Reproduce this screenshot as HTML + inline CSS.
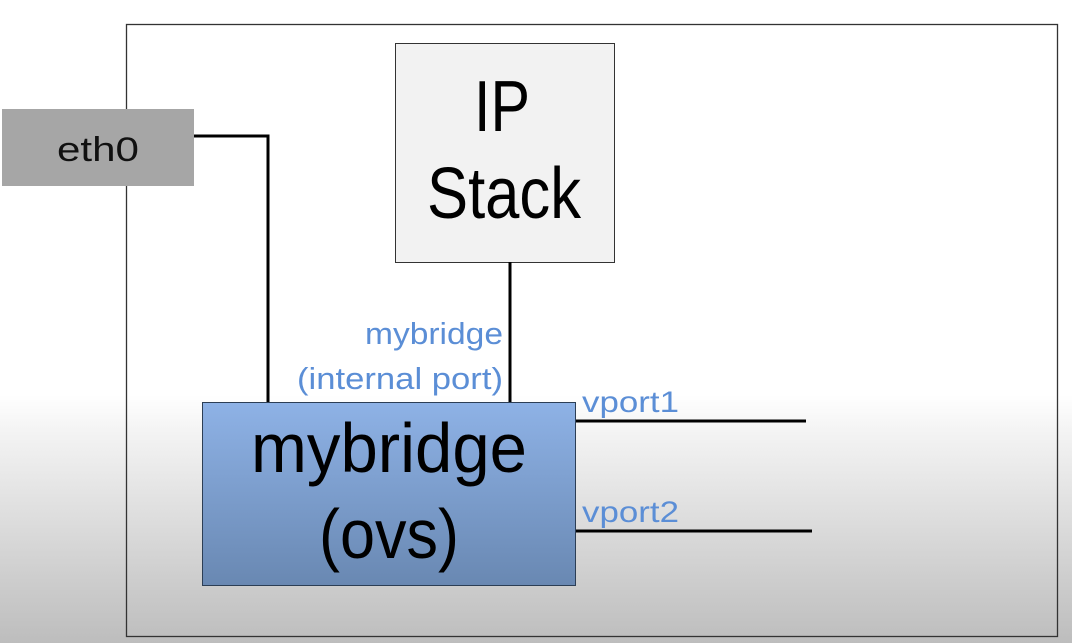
<!DOCTYPE html>
<html><head><style>
html,body{margin:0;padding:0;}
body{width:1072px;height:643px;overflow:hidden;background:linear-gradient(to bottom,#ffffff 0px,#ffffff 395px,#f4f4f4 430px,#bdbdbd 643px);}
</style></head><body>
<svg width="1072" height="643" xmlns="http://www.w3.org/2000/svg" style="position:absolute;left:0;top:0">
<defs>
<linearGradient id="bg" x1="0" y1="0" x2="0" y2="1">
<stop offset="0" stop-color="#8eb2e6"/><stop offset="1" stop-color="#6988b2"/>
</linearGradient>
</defs>
<rect x="126.5" y="24.5" width="931" height="612" fill="none" stroke="#333" stroke-width="1.3"/>
<rect x="2" y="109" width="192" height="77" fill="#a6a6a6"/>
<text x="98" y="161" font-family="Liberation Sans, sans-serif" font-size="34" text-anchor="middle" textLength="82" lengthAdjust="spacingAndGlyphs" fill="#111">eth0</text>
<rect x="395.5" y="43.5" width="219" height="219" fill="#f2f2f2" stroke="#333" stroke-width="1"/>
<text x="502" y="131" font-family="Liberation Sans, sans-serif" font-size="72" text-anchor="middle" textLength="56" lengthAdjust="spacingAndGlyphs" fill="#000">IP</text>
<text x="504" y="218" font-family="Liberation Sans, sans-serif" font-size="72" text-anchor="middle" textLength="154" lengthAdjust="spacingAndGlyphs" fill="#000">Stack</text>
<polyline points="194,136 268,136 268,403" fill="none" stroke="#000" stroke-width="3"/>
<line x1="510" y1="262" x2="510" y2="403" stroke="#000" stroke-width="3"/>
<text x="503" y="344" font-family="Liberation Sans, sans-serif" font-size="31" text-anchor="end" textLength="138" lengthAdjust="spacingAndGlyphs" fill="#5b8ed6">mybridge</text>
<text x="503" y="389" font-family="Liberation Sans, sans-serif" font-size="31" text-anchor="end" textLength="206" lengthAdjust="spacingAndGlyphs" fill="#5b8ed6">(internal port)</text>
<rect x="202.5" y="402.5" width="373" height="183" fill="url(#bg)" stroke="#2c3e55" stroke-width="1"/>
<text x="389" y="472" font-family="Liberation Sans, sans-serif" font-size="70" text-anchor="middle" textLength="276" lengthAdjust="spacingAndGlyphs" fill="#000">mybridge</text>
<text x="389" y="558" font-family="Liberation Sans, sans-serif" font-size="70" text-anchor="middle" textLength="140" lengthAdjust="spacingAndGlyphs" fill="#000">(ovs)</text>
<line x1="576" y1="421" x2="806" y2="421" stroke="#000" stroke-width="3"/>
<line x1="576" y1="531" x2="812" y2="531" stroke="#000" stroke-width="3"/>
<text x="582" y="412" font-family="Liberation Sans, sans-serif" font-size="30" textLength="97" lengthAdjust="spacingAndGlyphs" fill="#5b8ed6">vport1</text>
<text x="582" y="522" font-family="Liberation Sans, sans-serif" font-size="30" textLength="97" lengthAdjust="spacingAndGlyphs" fill="#5b8ed6">vport2</text>
</svg>
</body></html>
